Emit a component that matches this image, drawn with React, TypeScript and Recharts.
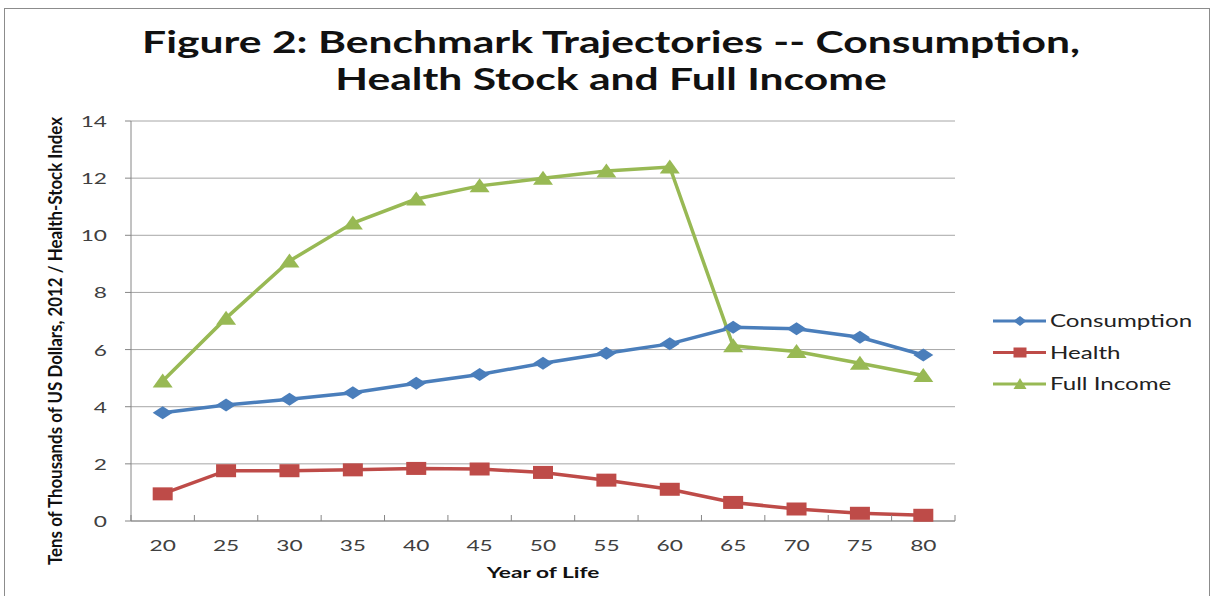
import React from 'react'
import { LineChart, Line, XAxis, YAxis, CartesianGrid } from 'recharts'

const years = [20, 25, 30, 35, 40, 45, 50, 55, 60, 65, 70, 75, 80]
const consumption = [3.79, 4.06, 4.26, 4.49, 4.82, 5.13, 5.52, 5.87, 6.2, 6.78, 6.73, 6.43, 5.81]
const health = [0.95, 1.76, 1.76, 1.79, 1.84, 1.82, 1.7, 1.43, 1.11, 0.65, 0.42, 0.27, 0.2]
const fullIncome = [4.9, 7.1, 9.1, 10.43, 11.27, 11.73, 12.0, 12.25, 12.39, 6.13, 5.93, 5.52, 5.09]
const yTicks = [0, 2, 4, 6, 8, 10, 12, 14]

const BLUE = '#4a7ebb'
const RED = '#be4b48'
const GREEN = '#98b954'
const FONT = 'Lato, "Open Sans", sans-serif'
const STRETCH = 1.42 // the source picture is stretched sideways

const data = years.map((yr, i) => ({
  year: yr,
  consumption: consumption[i],
  health: health[i],
  fullIncome: fullIncome[i],
}))

type Shape = 'diamond' | 'square' | 'triangle'

function marker(shape: Shape, cx: number, cy: number, fill: string, w: number, h: number, key?: string) {
  if (shape === 'diamond') {
    return <path key={key} d={`M${cx},${cy - h / 2} L${cx + w / 2},${cy} L${cx},${cy + h / 2} L${cx - w / 2},${cy} Z`} fill={fill} />
  }
  if (shape === 'square') {
    return <rect key={key} x={cx - w / 2} y={cy - h / 2} width={w} height={h} fill={fill} />
  }
  return <path key={key} d={`M${cx},${cy - h / 2 - 1} L${cx + w / 2},${cy + h / 2} L${cx - w / 2},${cy + h / 2} Z`} fill={fill} />
}

const dotFor = (shape: Shape, fill: string) => (p: any) =>
  marker(shape, p.cx, p.cy, fill, 20, 13, `${shape}-${p.index}`)

const series = [
  { key: 'consumption', name: 'Consumption', color: BLUE, shape: 'diamond' as Shape },
  { key: 'health', name: 'Health', color: RED, shape: 'square' as Shape },
  { key: 'fullIncome', name: 'Full Income', color: GREEN, shape: 'triangle' as Shape },
]

// label centred on the point, tick mark on the band edges
const XTick = (props: any) => {
  const { x, y, payload, index } = props
  const half = 31.7
  return (
    <g>
      <line x1={x - half} y1={y - 14} x2={x - half} y2={y - 8} stroke="#868686" />
      {index === years.length - 1 && (
        <line x1={x + half} y1={y - 14} x2={x + half} y2={y - 8} stroke="#868686" />
      )}
      <text transform={`translate(${x},${y + 22}) scale(${STRETCH},1)`} textAnchor="middle" fontSize={16} fill="#404040" fontFamily={FONT}>
        {payload.value}
      </text>
    </g>
  )
}

const YTick = (props: any) => {
  const { x, y, payload } = props
  return (
    <text transform={`translate(${x},${y + 6}) scale(${STRETCH},1)`} textAnchor="end" fontSize={16} fill="#404040" fontFamily={FONT}>
      {payload.value}
    </text>
  )
}

function Legend() {
  return (
    <svg width={224} height={100} style={{ position: 'absolute', left: 990, top: 305 }}>
      {series.map((s, i) => {
        const cy = 16 + i * 31.5
        return (
          <g key={s.key}>
            <line x1={3} y1={cy} x2={56} y2={cy} stroke={s.color} strokeWidth={3} />
            {marker(s.shape, 30, cy, s.color, 13, 10)}
            <text transform={`translate(60,${cy + 6}) scale(${STRETCH},1)`} fontSize={17} fill="#222" fontFamily={FONT}>{s.name}</text>
          </g>
        )
      })}
    </svg>
  )
}

export default function App() {
  return (
    <div style={{ position: 'fixed', left: 0, top: 0, width: 1214, height: 596, background: '#fff', overflow: 'hidden' }}>
      <div style={{ position: 'absolute', left: 4, top: 8, width: 1204, height: 600, border: '1.5px solid #8c8c8c' }} />
      <div
        style={{
          position: 'absolute', left: 0, top: 23, width: 1222, textAlign: 'center',
          fontFamily: FONT, fontWeight: 700, fontSize: 30, lineHeight: '37px', color: '#111',
          transform: `scaleX(${STRETCH})`, transformOrigin: '611px 0',
        }}
      >
        Figure 2: Benchmark Trajectories -- Consumption,<br />Health Stock and Full Income
      </div>
      <div style={{ position: 'absolute', left: 0, top: 0 }}>
        <LineChart width={1214} height={596} data={data} margin={{ top: 121, right: 259, bottom: 0, left: 0 }}>
          <CartesianGrid vertical={false} stroke="#a6a6a6" />
          <XAxis
            dataKey="year"
            type="number"
            domain={[17.5, 82.5]}
            ticks={years}
            height={75}
            tickLine={false}
            axisLine={{ stroke: '#868686' }}
            tick={<XTick />}
            label={{
              content: () => (
                <text transform={`translate(543,578) scale(${STRETCH},1)`} textAnchor="middle" fontSize={16} fontWeight={700} fill="#111" fontFamily={FONT}>
                  Year of Life
                </text>
              ),
            }}
          />
          <YAxis
            domain={[0, 14]}
            ticks={yTicks}
            width={131}
            tickSize={6}
            tickMargin={18}
            axisLine={{ stroke: '#868686' }}
            tickLine={{ stroke: '#868686' }}
            tick={<YTick />}
            label={{
              content: () => (
                <text
                  x={62}
                  y={341}
                  transform="rotate(-90, 62, 341)"
                  textAnchor="middle"
                  fontSize={18}
                  fontWeight={700}
                  fill="#111"
                  fontFamily={FONT}
                  textLength={448}
                  lengthAdjust="spacingAndGlyphs"
                >
                  Tens of Thousands of US Dollars, 2012 / Health-Stock Index
                </text>
              ),
            }}
          />
          {series.map((s) => (
            <Line
              key={s.key}
              dataKey={s.key}
              name={s.name}
              stroke={s.color}
              strokeWidth={3.5}
              dot={dotFor(s.shape, s.color)}
              activeDot={false}
              isAnimationActive={false}
            />
          ))}
        </LineChart>
      </div>
      <Legend />
    </div>
  )
}
